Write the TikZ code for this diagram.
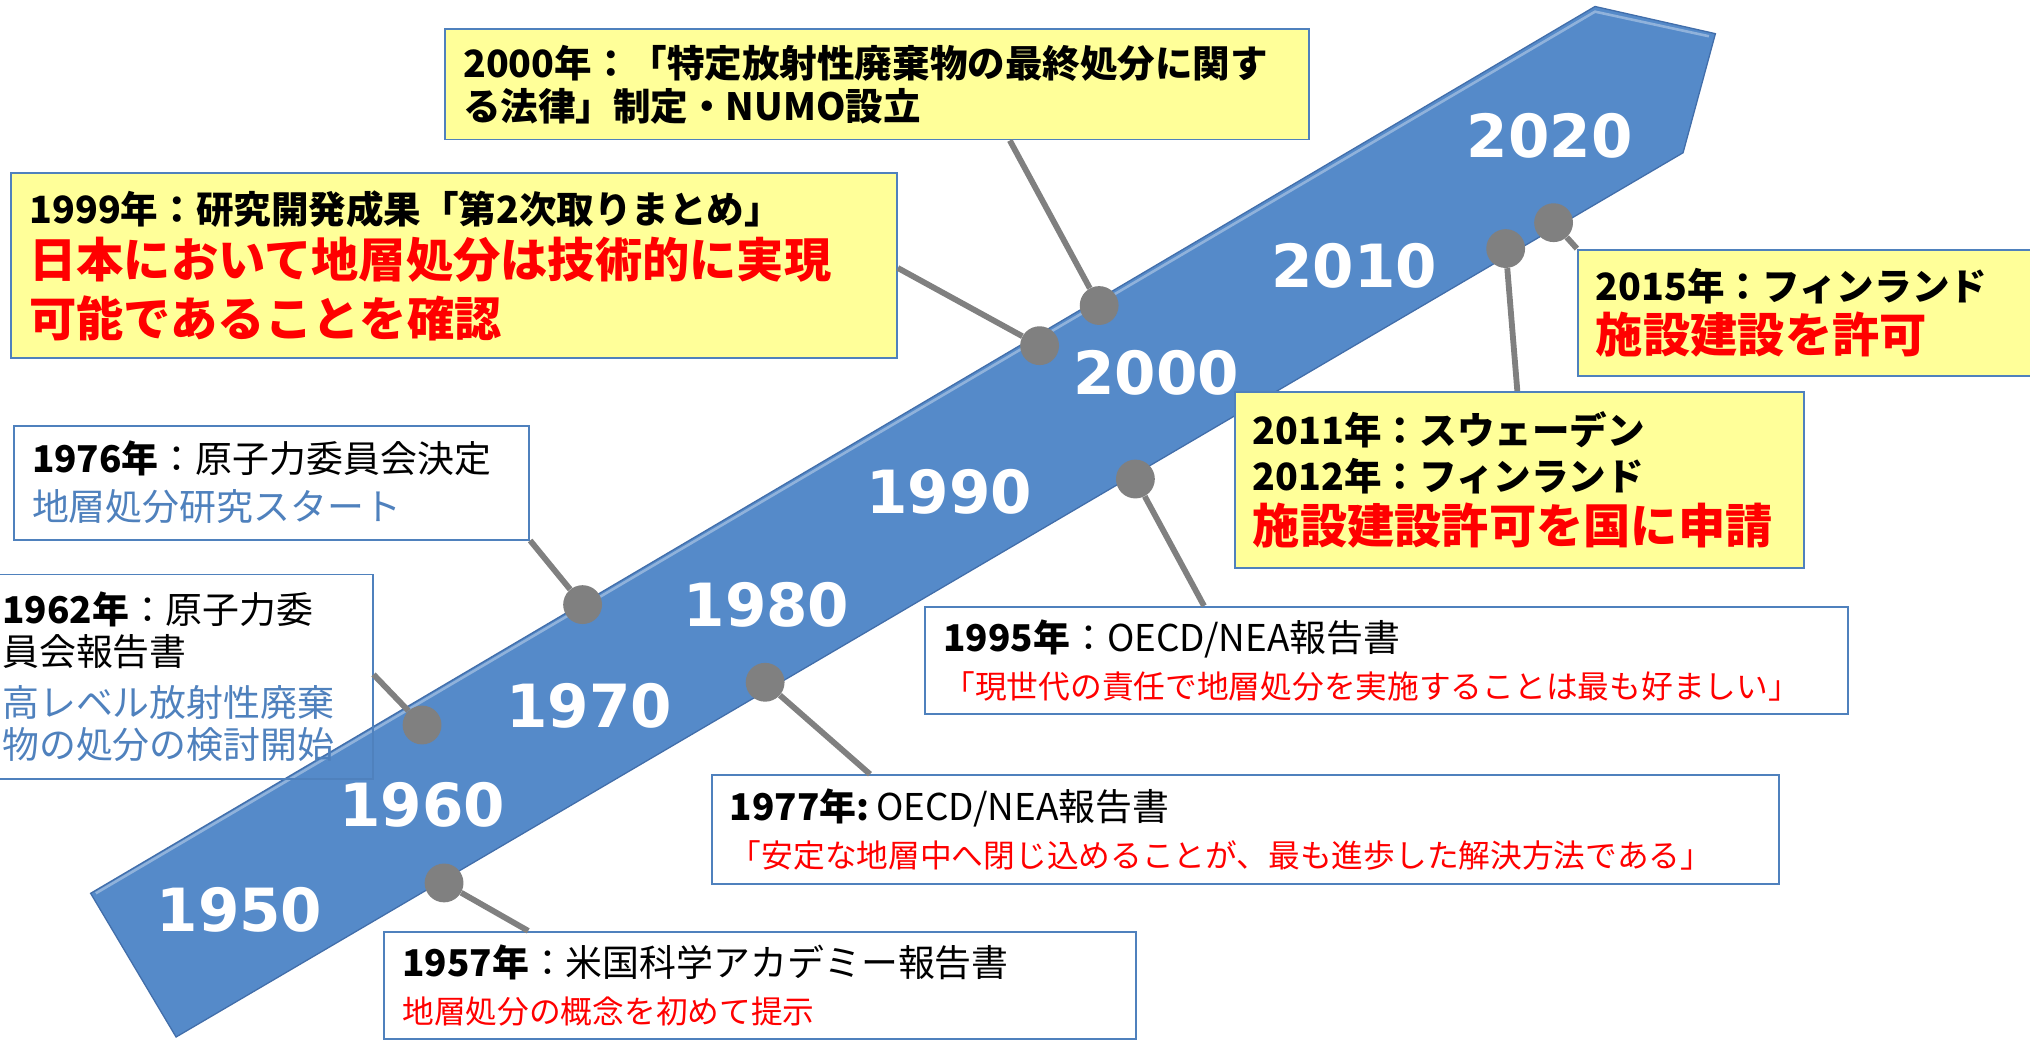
\documentclass[tikz,border=0pt]{standalone}
\usepackage{fontspec}
\setmainfont{Noto Sans CJK JP}
\newfontfamily\decfont{DejaVu Sans}

\definecolor{bandblue}{RGB}{85,138,201}
\definecolor{edgeblue}{RGB}{66,110,170}
\definecolor{boxblue}{RGB}{79,129,189}
\definecolor{notefill}{RGB}{255,255,153}
\definecolor{dotgray}{RGB}{128,128,128}

% one line of a box: [distance from the line above]{text}
\newcommand\yline[2][36]{{\bfseries\fontsize{29}{#1}\selectfont #2\par}}
\newcommand\rbig[2][42]{{\color{red}\bfseries\fontsize{36.5}{#1}\selectfont #2\par}}
\newcommand\rsmall[2][36]{{\color{red}\fontsize{24.5}{#1}\selectfont #2\par}}
\newcommand\wline[2][36]{{\fontsize{28.5}{#1}\selectfont #2\par}}
\newcommand\bline[2][37]{{\color{boxblue}\fontsize{28.5}{#1}\selectfont #2\par}}

\begin{document}
\begin{tikzpicture}[x=1pt,y=-1pt,
  note/.style={draw=boxblue,line width=1.5pt,anchor=north west,align=left,
    inner xsep=14pt,inner ysep=0pt},
  yellownote/.style={note,fill=notefill},
  whitenote/.style={note,fill=white},
  decade/.style={text=white,font=\decfont\bfseries\fontsize{46}{46}\selectfont},
  dot/.style={circle,fill=dotgray,minimum size=30pt,inner sep=0pt},
  link/.style={dotgray,line width=4.5pt}]
\useasboundingbox (0,0) rectangle (1568,803);

% the band
\fill[bandblue,draw=edgeblue,line width=1pt] (70,690) -- (1232,5) -- (1325,26) -- (1300,118) -- (136,801) -- cycle;
\draw[white,opacity=.35,line width=2pt] (74,690) -- (1232,9) -- (1320,28);

\foreach \y/\px/\py in {1950/185/703,1960/326/622,1970/455/545,1980/592/467,
  1990/733/380,2000/893/288,2010/1046/205,2020/1197/105}
  \node[decade] (y\y) at (\px,\py) {\y};

% boxes
\node[yellownote,text width=639pt,minimum height=85pt] (b2000) at (343,22)
  {\yline{2000年：「特定放射性廃棄物の最終処分に関す}\yline[33]{る法律」制定・NUMO設立}};
\node[yellownote,text width=656pt,minimum height=143pt] (b1999) at (8,133)
  {\yline{1999年：研究開発成果「第2次取りまとめ」}\rbig{日本において地層処分は技術的に実現}\rbig[45]{可能であることを確認}};
\node[whitenote,text width=370pt,minimum height=88pt] (b1976) at (10,328)
  {\wline{\textbf{1976年}：原子力委員会決定}\bline{地層処分研究スタート}};
\node[note,text width=272pt,minimum height=158pt] (b1962) at (-13,443)
  {\wline{\textbf{1962年}：原子力委}\wline[32]{員会報告書}\bline[40]{高レベル放射性廃棄}\bline[32]{物の処分の検討開始}};
\node[whitenote,text width=685pt,minimum height=83pt] (b1995) at (714,468)
  {\wline{\textbf{1995年}：OECD/NEA報告書}\rsmall{「現世代の責任で地層処分を実施することは最も好ましい」}};
\node[whitenote,text width=796pt,minimum height=84pt] (b1977) at (549,598)
  {\wline{\textbf{1977年:} OECD/NEA報告書}\rsmall{「安定な地層中へ閉じ込めることが、最も進歩した解決方法である」}};
\node[whitenote,text width=553pt,minimum height=83pt] (b1957) at (296,719)
  {\wline{\textbf{1957年}：米国科学アカデミー報告書}\rsmall{地層処分の概念を初めて提示}};
\node[yellownote,text width=412pt,minimum height=136pt] (b2011) at (953,302)
  {\yline{2011年：スウェーデン}\yline{2012年：フィンランド}\rbig[41]{施設建設許可を国に申請}};
\node[yellownote,text width=334pt,minimum height=98pt] (b2015) at (1218,192)
  {\yline{2015年：フィンランド}\rbig[40]{施設建設を許可}};

% dots on the band
\foreach \n/\px/\py in {1957/343/682,1962/326/560,1976/450/467,1977/591/527,
  1995/877/370,1999/803/267,2000/849/236,2011/1163/192,2015/1200/172}
  \node[dot] (d\n) at (\px,\py) {};

\draw[link] (d1957) -- ([xshift=112pt]b1957.north west);
\draw[link] (d1962) -- ([yshift=-78pt]b1962.north east);
\draw[link] (d1976) -- (b1976.south east);
\draw[link] (d1977) -- ([xshift=123pt]b1977.north west);
\draw[link] (d1995) -- ([xshift=216pt]b1995.north west);
\draw[link] (d1999) -- ([yshift=-74pt]b1999.north east);
\draw[link] (d2000) -- ([xshift=437pt]b2000.south west);
\draw[link] (d2011) -- ([xshift=219pt]b2011.north west);
\draw[link] (d2015) -- (b2015.north west);
\end{tikzpicture}
\end{document}
